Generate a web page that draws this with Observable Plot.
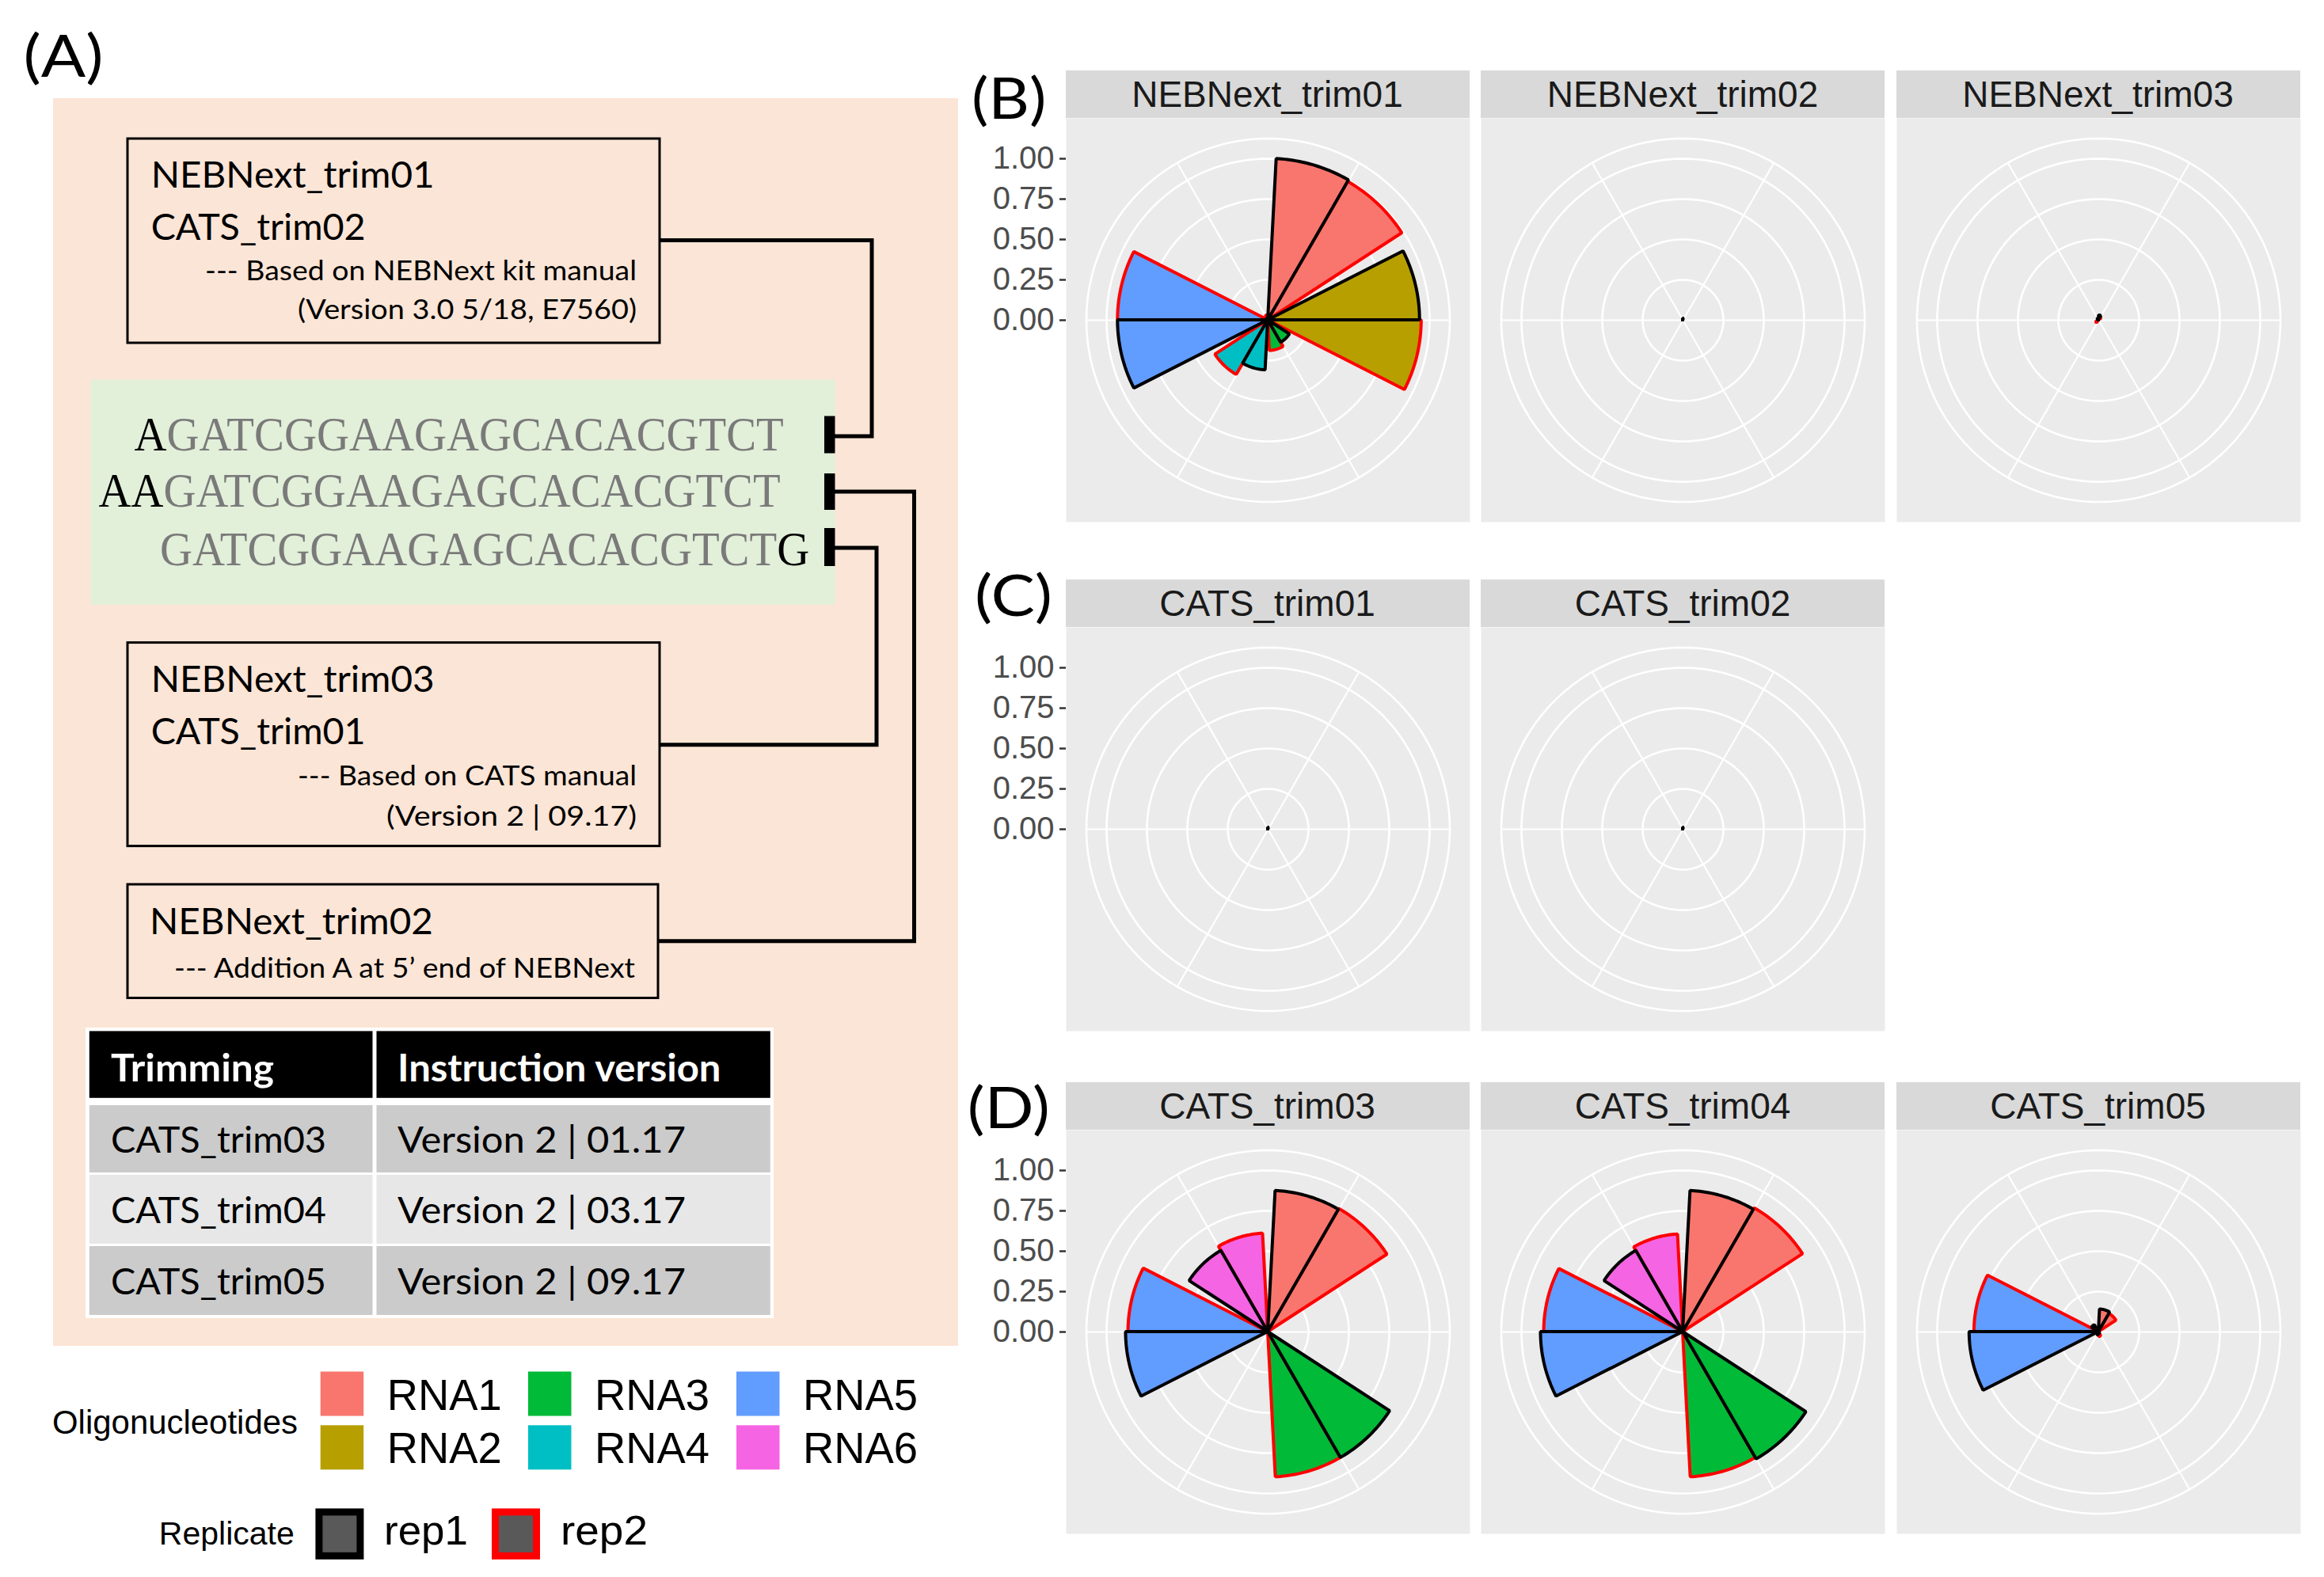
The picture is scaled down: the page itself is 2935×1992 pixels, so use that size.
<!DOCTYPE html>
<html><head><meta charset="utf-8">
<script src="https://cdn.jsdelivr.net/npm/d3@7"></script>
<script src="https://cdn.jsdelivr.net/npm/@observablehq/plot@0.6"></script>
<style>
html,body{margin:0;padding:0;background:#fff;}
#page{position:relative;width:2935px;height:1992px;overflow:hidden;background:#fff;}
.strip{position:absolute;background:#D9D9D9;color:#1A1A1A;font-family:"Liberation Sans",Arial,sans-serif;font-size:46px;display:flex;align-items:center;justify-content:center;line-height:1;}
.panel{position:absolute;display:block;}
</style></head>
<body><div id="page"><svg id="diagram" width="2935" height="1992" style="position:absolute;left:0;top:0"></svg></div>
<script>
// ---------------- data ----------------
const rnas = ["RNA1", "RNA2", "RNA3", "RNA4", "RNA5", "RNA6"];
const rnaColors = ["#F8766D", "#B79F00", "#00BA38", "#00BFC4", "#619CFF", "#F564E3"];
const reps = ["rep1", "rep2"];
const repStrokes = ["#000000", "#FF0000"];
const rTicks = [0, 0.25, 0.5, 0.75, 1];

const rowB = ["NEBNext_trim01", "NEBNext_trim02", "NEBNext_trim03"];
const rowC = ["CATS_trim01", "CATS_trim02"];
const rowD = ["CATS_trim03", "CATS_trim04", "CATS_trim05"];

// values per oligonucleotide (RNA1..RNA6)
const nebTrim01Rep1 = [1.00, 0.94, 0.16, 0.31, 0.93, 0.01];
const nebTrim01Rep2 = [0.99, 0.95, 0.19, 0.39, 0.93, 0.03];
const nebTrim02Rep1 = [0.01, 0, 0, 0, 0, 0];
const nebTrim02Rep2 = [0, 0, 0, 0, 0, 0];
const nebTrim03Rep1 = [0.03, 0, 0, 0, 0, 0.01];
const nebTrim03Rep2 = [0.02, 0, 0, 0.02, 0, 0];
const catsTrim01Rep1 = [0.01, 0, 0, 0, 0, 0];
const catsTrim01Rep2 = [0, 0, 0, 0, 0, 0];
const catsTrim02Rep1 = [0.01, 0, 0, 0, 0, 0];
const catsTrim02Rep2 = [0, 0, 0, 0, 0, 0];
const catsTrim03Rep1 = [0.875, 0, 0.90, 0, 0.88, 0.58];
const catsTrim03Rep2 = [0.88, 0, 0.90, 0, 0.865, 0.61];
const catsTrim04Rep1 = [0.875, 0, 0.91, 0, 0.88, 0.58];
const catsTrim04Rep2 = [0.885, 0, 0.90, 0, 0.86, 0.605];
const catsTrim05Rep1 = [0.14, 0, 0.01, 0.02, 0.80, 0.05];
const catsTrim05Rep2 = [0.13, 0, 0.03, 0, 0.77, 0.02];

const tableTrims = ["CATS_trim03", "CATS_trim04", "CATS_trim05"];
const tableVersions = ["Version 2 | 01.17", "Version 2 | 03.17", "Version 2 | 09.17"];

const panelValues = {
  NEBNext_trim01: [nebTrim01Rep1, nebTrim01Rep2],
  NEBNext_trim02: [nebTrim02Rep1, nebTrim02Rep2],
  NEBNext_trim03: [nebTrim03Rep1, nebTrim03Rep2],
  CATS_trim01: [catsTrim01Rep1, catsTrim01Rep2],
  CATS_trim02: [catsTrim02Rep1, catsTrim02Rep2],
  CATS_trim03: [catsTrim03Rep1, catsTrim03Rep2],
  CATS_trim04: [catsTrim04Rep1, catsTrim04Rep2],
  CATS_trim05: [catsTrim05Rep1, catsTrim05Rep2]
};

// ---------------- layout ----------------
const P = 510;                 // panel size (px)
const half = 1.25;             // data half-extent of a panel (ggplot: 0.5 / 0.4)
const outerR = 1.125;          // ggplot outer circle (0.45 / 0.4)
const span = 60, halfBar = 27; // degrees per category, half width of a dodged bar (0.9 width)
const colLeft = [1345.5, 1870, 2394.5];
const stripTop = [88.5, 731.8, 1366.6];
const stripH = 60.5;
const axisMargin = 140;

const page = document.getElementById("page");
const deg = Math.PI / 180;

const circlePts = [];
for (const r of rTicks.filter(d => d > 0).concat([outerR])) {
  for (let a = 0; a <= 360; a += 2) circlePts.push({r, a});
}
const spokes = rnas.map((k, i) => ({a: (i + 0.5) * span}));

function wedgeRows(name) {
  const [v1, v2] = panelValues[name];
  const rows = [];
  rnas.forEach((rna, i) => {
    const c = (i + 0.5) * span;
    [v1[i], v2[i]].forEach((v, j) => {
      const a0 = j === 0 ? c - halfBar : c;
      const a1 = j === 0 ? c : c + halfBar;
      for (let a = a0; a <= a1 + 1e-9; a += 1) rows.push({key: rna + reps[j], rna, rep: reps[j], v, a});
    });
  });
  return rows;
}

function rose(name, withAxis) {
  const rows = wedgeRows(name);
  const mL = withAxis ? axisMargin : 0;
  const wedge = (rep, stroke) => Plot.area(rows.filter(d => d.rep === rep), {
    x1: () => 0, y1: () => 0,
    x2: d => d.v * Math.sin(d.a * deg), y2: d => d.v * Math.cos(d.a * deg),
    z: "key", fill: "rna", stroke, strokeWidth: 4, strokeLinejoin: "miter"
  });
  return Plot.plot({
    width: mL + P, height: P,
    marginLeft: mL, marginRight: 0, marginTop: 0, marginBottom: 0,
    x: {domain: [-half, half], axis: null},
    y: {domain: [-half, half], axis: null, label: null},
    color: {domain: rnas, range: rnaColors},
    style: {background: "none", fontFamily: "'Liberation Sans', Arial, sans-serif", fontSize: "40px", overflow: "visible"},
    marks: [
      Plot.frame({fill: "#EBEBEB", stroke: "none"}),
      Plot.line(circlePts, {x: d => d.r * Math.sin(d.a * deg), y: d => d.r * Math.cos(d.a * deg), z: "r", stroke: "#FFFFFF", strokeWidth: 2.6}),
      Plot.link(spokes, {x1: () => 0, y1: () => 0, x2: d => outerR * Math.sin(d.a * deg), y2: d => outerR * Math.cos(d.a * deg), stroke: "#FFFFFF", strokeWidth: 2.2}),
      wedge("rep2", repStrokes[1]),
      wedge("rep1", repStrokes[0]),
      withAxis ? Plot.axisY({ticks: rTicks, tickFormat: d3.format(".2f"), tickSize: 8, tickPadding: 7, fontSize: 40, fill: "#4D4D4D", stroke: "#333333", strokeWidth: 2.5}) : null
    ]
  });
}

[rowB, rowC, rowD].forEach((row, ri) => {
  row.forEach((name, ci) => {
    const s = document.createElement("div");
    s.className = "strip";
    Object.assign(s.style, {left: colLeft[ci] + "px", top: stripTop[ri] + "px", width: P + "px", height: stripH + "px"});
    s.textContent = name;
    page.appendChild(s);
    const chart = rose(name, ci === 0);
    chart.classList.add("panel");
    chart.style.left = (colLeft[ci] - (ci === 0 ? axisMargin : 0)) + "px";
    chart.style.top = (stripTop[ri] + stripH) + "px";
    page.appendChild(chart);
  });
});

// ---------------- panel A diagram & legends ----------------
const svg = d3.select("#diagram");
function txt(str, x, y, o) {
  const t = svg.append("text").attr("x", x).attr("y", y)
    .attr("font-family", o.family || "Lato").attr("font-size", o.size)
    .attr("font-weight", o.weight || 400).attr("fill", o.fill || "#000").text(str);
  if (o.len) t.attr("textLength", o.len).attr("lengthAdjust", "spacingAndGlyphs");
  return t;
}
function rect(x, y, w, h, fill, stroke, sw) {
  return svg.append("rect").attr("x", x).attr("y", y).attr("width", w).attr("height", h)
    .attr("fill", fill || "none").attr("stroke", stroke || "none").attr("stroke-width", sw || 0);
}

txt("(A)", 29.6, 97, {size: 74, len: 101});
txt("(B)", 1226.9, 150, {size: 72, len: 94.5});
txt("(C)", 1231, 778, {size: 72, len: 98});
txt("(D)", 1221.7, 1425, {size: 72, len: 104});

rect(67, 124, 1143, 1576, "#FBE5D6");
rect(114.4, 479.6, 940.1, 284.2, "#E2EFD9");

// boxes
rect(161, 175, 672, 258, "none", "#000", 3);
rect(161, 811.6, 672, 257, "none", "#000", 3);
rect(161, 1117, 670, 143.5, "none", "#000", 3);

txt("NEBNext_trim01", 190.7, 237, {size: 46, len: 358});
txt("CATS_trim02", 190.7, 302.5, {size: 46, len: 271});
txt("--- Based on NEBNext kit manual", 259, 354, {size: 35, len: 545});
txt("(Version 3.0 5/18, E7560)", 376, 403, {size: 35, len: 428});
txt("NEBNext_trim03", 190.7, 873.6, {size: 46, len: 358});
txt("CATS_trim01", 190.7, 939.6, {size: 46, len: 271});
txt("--- Based on CATS manual", 376, 992.4, {size: 35, len: 428});
txt("(Version 2 | 09.17)", 488, 1043, {size: 35, len: 316});
txt("NEBNext_trim02", 189, 1180, {size: 46, len: 358});
txt("--- Addition A at 5\u2019 end of NEBNext", 220, 1235, {size: 35, len: 582});

// sequences: condensed serif runs (black additions, grey adapter core), drawn with a horizontal scale
const seqCore = "GATCGGAAGAGCACACGTCT";
const serif = "'Liberation Serif', 'Times New Roman', serif";
const seqScale = 0.916;
const seqRows = [
  {x: 169.6, y: 569, parts: [["A", "#000"], [seqCore, "#7A7A7A"]]},
  {x: 124.5, y: 640, parts: [["AA", "#000"], [seqCore, "#7A7A7A"]]},
  {x: 202, y: 714, parts: [[seqCore, "#7A7A7A"], ["G", "#000"]]}
];
seqRows.forEach(r => {
  let x = r.x;
  r.parts.forEach(([s, fill]) => {
    const t = svg.append("text").attr("x", 0).attr("y", 0)
      .attr("transform", `translate(${x},${r.y}) scale(${seqScale},1)`)
      .attr("font-family", serif).attr("font-size", 62).attr("fill", fill).text(s);
    x += t.node().getComputedTextLength() * seqScale;
  });
});
rect(1041, 525.5, 13.5, 47, "#000");
rect(1041, 598, 13.5, 46, "#000");
rect(1041, 667, 13.5, 48, "#000");

const conn = (d) => svg.append("path").attr("d", d).attr("fill", "none").attr("stroke", "#000").attr("stroke-width", 5).attr("stroke-linejoin", "miter");
conn("M 833 303.6 H 1101 V 551 H 1054");
conn("M 1054 621 H 1154.5 V 1188.7 H 831");
conn("M 1054 692 H 1107 V 940.7 H 833");

// table
rect(108, 1298, 869, 367, "#FFFFFF");
rect(112.8, 1302.4, 357.7, 84.4, "#000");
rect(475.5, 1302.4, 497.3, 84.4, "#000");
txt("Trimming", 140, 1365.5, {size: 47, weight: 700, fill: "#FFF", len: 206});
txt("Instruction version", 502, 1365.5, {size: 47, weight: 700, fill: "#FFF", len: 408.5});
const rowTops = [1396, 1484, 1574], rowHs = [85, 87, 87], rowBase = [1455.7, 1545, 1635];
const rowFills = ["#CBCBCB", "#E7E7E7", "#CBCBCB"];
tableTrims.forEach((t, i) => {
  rect(112.8, rowTops[i], 357.7, rowHs[i], rowFills[i]);
  rect(475.5, rowTops[i], 497.3, rowHs[i], rowFills[i]);
  txt(t, 140, rowBase[i], {size: 46, len: 272});
  txt(tableVersions[i], 502, rowBase[i], {size: 46, len: 364});
});

// legends
const sans = "'Liberation Sans', Arial, sans-serif";
txt("Oligonucleotides", 66, 1810.5, {size: 42, family: sans, len: 310});
const swL = [404.7, 667, 930], labL = [488.7, 751, 1014];
const swT = [1732.5, 1800.3], labB = [1781, 1847.8];
rnas.forEach((r, i) => {
  const c = Math.floor(i / 2), rr = i % 2;
  rect(swL[c], swT[rr], 54.5, 56, rnaColors[i]);
  txt(r, labL[c], labB[rr], {size: 56, family: sans, len: 145});
});
txt("Replicate", 200.8, 1951, {size: 41, family: sans, len: 171});
const repSwL = [398.4, 621], repLabL = [485, 708];
reps.forEach((r, i) => {
  rect(repSwL[i] + 4.5, 1905.4 + 4.5, 61 - 9, 64.4 - 9, "#595959", repStrokes[i], 9);
  txt(r, repLabL[i], 1951, {size: 52, family: sans, len: i === 0 ? 106 : 110});
});
</script></body></html>
